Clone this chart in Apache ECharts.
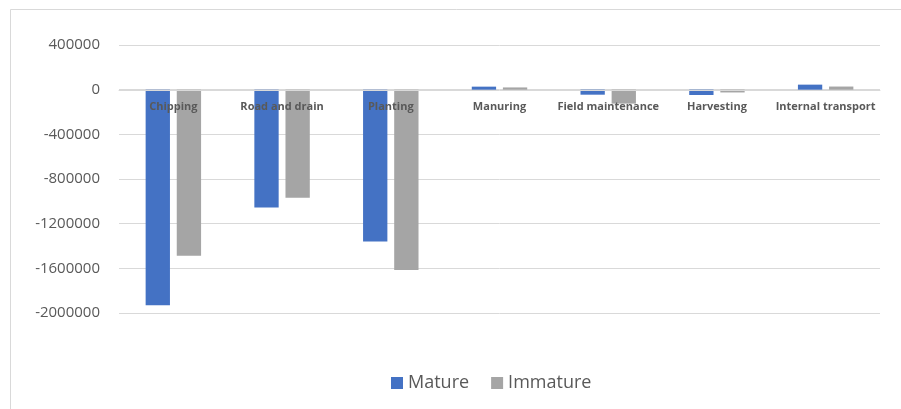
<!DOCTYPE html>
<html>
<head>
<meta charset="utf-8">
<script src="https://cdn.jsdelivr.net/npm/echarts@6/dist/echarts.min.js"></script>
<style>
html,body{margin:0;padding:0;background:#fff;}
#chart{width:901px;height:409px;}
</style>
</head>
<body>
<div id="chart"></div>
<script>
const categories = ['Chipping', 'Road and drain', 'Planting', 'Manuring', 'Field maintenance', 'Harvesting', 'Internal transport'];
const matureValues = [-1930000, -1055000, -1360000, 27000, -45000, -48000, 45000];
const immatureValues = [-1488000, -968000, -1615000, 20000, -125000, -25000, 28000];
const yTicks = { min: -2000000, max: 400000, interval: 400000 };

const chart = echarts.init(document.getElementById('chart'), null, { renderer: 'canvas' });
chart.setOption({
  animation: false,
  backgroundColor: '#ffffff',
  graphic: [{
    type: 'rect',
    shape: { x: 10.5, y: 9.5, width: 1000, height: 1000 },
    style: { fill: 'none', stroke: '#d9d9d9', lineWidth: 1 },
    silent: true
  }],
  grid: { left: 119, right: 21, top: 45, bottom: 96, containLabel: false },
  legend: {
    data: ['Mature', 'Immature'],
    left: 386,
    top: 369,
    itemWidth: 12,
    itemHeight: 12,
    itemGap: 22,
    icon: 'rect',
    textStyle: { fontFamily: 'Open Sans', fontSize: 18, color: '#595959' }
  },
  xAxis: {
    type: 'category',
    data: categories,
    offset: -223,
    axisLine: { onZero: false, lineStyle: { color: '#d9d9d9', width: 1 } },
    axisTick: { show: false },
    axisLabel: { fontFamily: 'Open Sans', fontWeight: 'bold', fontSize: 11, color: '#595959', margin: 11, interval: 0 },
    z: 10
  },
  yAxis: {
    type: 'value',
    min: yTicks.min,
    max: yTicks.max,
    interval: yTicks.interval,
    axisLine: { show: false },
    axisTick: { show: false },
    splitLine: { lineStyle: { color: '#d9d9d9', width: 1 } },
    axisLabel: { fontFamily: 'Open Sans', fontSize: 15, color: '#595959', margin: 19, formatter: function (v) { return String(v); } }
  },
  series: [
    { name: 'Mature', type: 'bar', data: matureValues, itemStyle: { color: '#4472C4' }, barGap: '28%', barCategoryGap: '49%' },
    { name: 'Immature', type: 'bar', data: immatureValues, itemStyle: { color: '#A5A5A5' }, barGap: '28%', barCategoryGap: '49%' }
  ]
});
</script>
</body>
</html>
